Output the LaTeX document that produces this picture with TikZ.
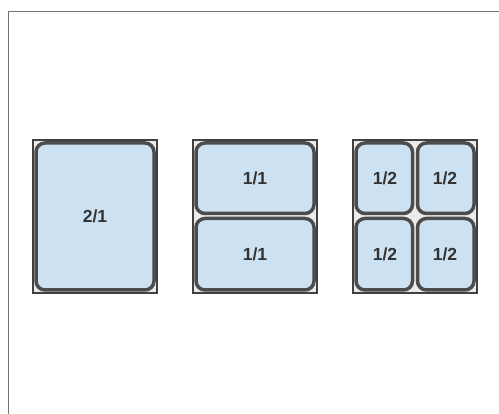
\documentclass[tikz,border=0pt]{standalone}
\usepackage{fontspec}
\setmainfont{Liberation Sans}
\begin{document}
\begin{tikzpicture}[x=1pt,y=-1pt,
  framebox/.style={draw=black!75,line width=2pt,fill=black!8},
  pan/.style={draw=black!70,line width=3.5pt,fill={rgb,255:red,204;green,226;blue,243},rounded corners=9pt},
  lbl/.style={font=\fontsize{17.5}{19}\selectfont\bfseries,text=black!80,inner sep=0pt}]
\useasboundingbox (0,0) rectangle (499,414);
\fill[white] (0,0) rectangle (499,414);
\draw[black!55,line width=1.5pt] (8.5,414) -- (8.5,11.5) -- (499,11.5);
% 2/1
\draw[framebox] (33,140) rectangle (157,293);
\draw[pan] (36,143) rectangle (154,290);
\node[lbl] (a) at (95,216.5) {2/1};
% 1/1
\draw[framebox] (193,140) rectangle (317,293);
\draw[pan] (196,143) rectangle (314,213.5);
\draw[pan] (196,218.5) rectangle (314,290);
\node[lbl] (b1) at (255,178) {1/1};
\node[lbl] (b2) at (255,254) {1/1};
% 1/2
\draw[framebox] (353,140) rectangle (477,293);
\draw[pan] (356,143) rectangle (412.5,213.5);
\draw[pan] (417.5,143) rectangle (474,213.5);
\draw[pan] (356,218.5) rectangle (412.5,290);
\draw[pan] (417.5,218.5) rectangle (474,290);
\node[lbl] (c1) at (385,178) {1/2};
\node[lbl] (c2) at (445,178) {1/2};
\node[lbl] (c3) at (385,254) {1/2};
\node[lbl] (c4) at (445,254) {1/2};
\end{tikzpicture}
\end{document}
